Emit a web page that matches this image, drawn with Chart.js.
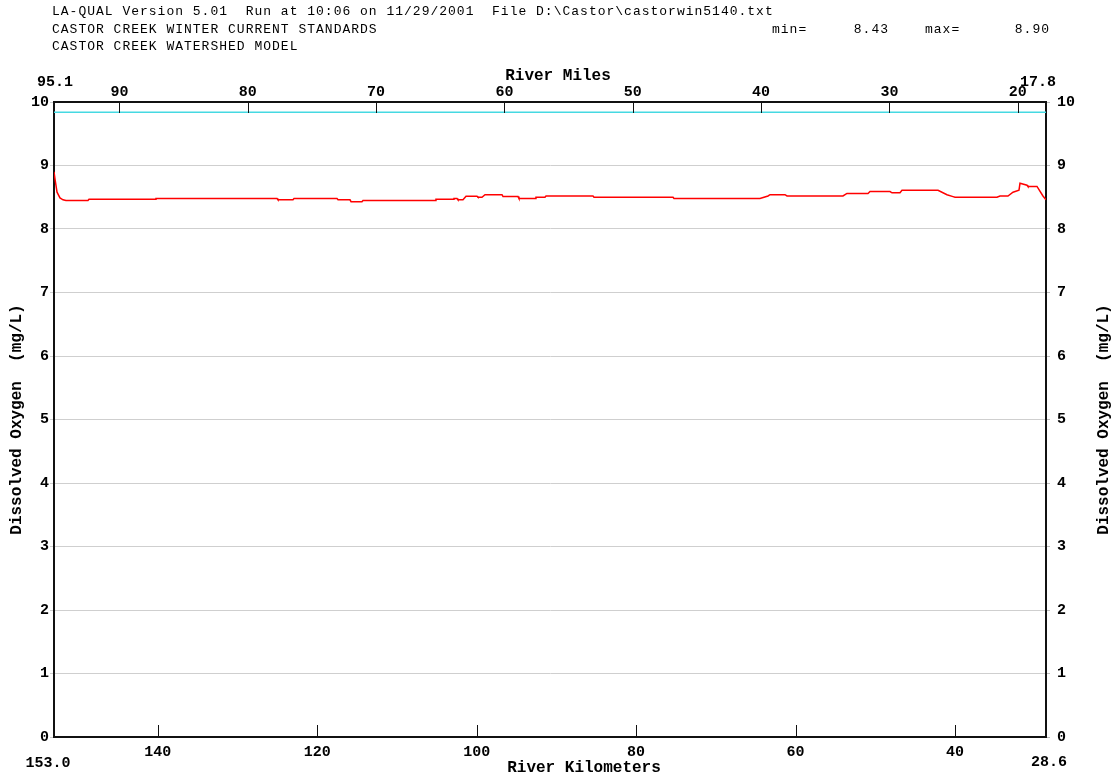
<!DOCTYPE html>
<html>
<head>
<meta charset="utf-8">
<title>Castor Creek DO profile</title>
<script src="https://cdn.jsdelivr.net/npm/chart.js@4.4.1/dist/chart.umd.min.js"></script>
<style>
  html, body { margin: 0; background: #fff; }
  canvas { display: block; }
</style>
</head>
<body>
<canvas id="doChart" width="1115" height="780"></canvas>
<script>
"use strict";

// simulated dissolved oxygen along the reach (river km, mg/L)
const riverKm = [
  153.0, 152.87, 152.62, 152.25, 151.87, 151.5, 148.74, 148.61, 140.33, 140.21,
  125.03, 124.91, 123.03, 122.9, 117.51, 117.38, 115.88, 115.75, 114.38, 114.25,
  105.22, 105.1, 102.96, 102.84, 102.46, 102.34, 101.71, 101.33, 99.95, 99.83,
  99.33, 98.95, 96.82, 96.69, 94.81, 94.69, 92.68, 92.56, 91.43, 91.3,
  85.41, 85.28, 75.37, 75.25, 64.47, 63.46, 63.21, 61.33, 61.08, 54.06,
  53.56, 50.92, 50.67, 48.16, 47.91, 46.91, 46.66, 42.14, 41.02, 40.26,
  40.01, 34.75, 34.37, 33.37, 32.74, 31.99, 31.86, 30.98, 30.86, 29.73,
  28.98, 28.6
];
const dissolvedOxygen = [
  8.90, 8.78, 8.58, 8.49, 8.46, 8.45, 8.45, 8.47, 8.47, 8.48,
  8.48, 8.46, 8.46, 8.48, 8.48, 8.46, 8.46, 8.43, 8.43, 8.45,
  8.45, 8.47, 8.47, 8.48, 8.48, 8.46, 8.46, 8.515, 8.515, 8.50,
  8.50, 8.54, 8.54, 8.51, 8.51, 8.48, 8.48, 8.50, 8.50, 8.52,
  8.52, 8.50, 8.50, 8.48, 8.48, 8.52, 8.54, 8.54, 8.52, 8.52,
  8.56, 8.56, 8.59, 8.59, 8.57, 8.57, 8.61, 8.61, 8.54, 8.51,
  8.50, 8.50, 8.52, 8.52, 8.58, 8.61, 8.72, 8.69, 8.67, 8.67,
  8.52, 8.46
];

// upper reference line
const standardKm = [153.0, 28.6];
const standardDo = [9.84, 9.84];

const kmRange = [28.6, 153.0];
const mileRange = [17.8, 95.1];
const kmTicks = [140, 120, 100, 80, 60, 40];
const mileTicks = [90, 80, 70, 60, 50, 40, 30, 20];
const doTicks = [0, 1, 2, 3, 4, 5, 6, 7, 8, 9, 10];

const headerLines = [
  "LA-QUAL Version 5.01  Run at 10:06 on 11/29/2001  File D:\\Castor\\castorwin5140.txt",
  "CASTOR CREEK WINTER CURRENT STANDARDS",
  "CASTOR CREEK WATERSHED MODEL"
];

const MONO = "'Liberation Mono', 'Courier New', monospace";
const tickFont = { family: MONO, size: 15, weight: "bold" };
const AXIS = "#111";

function fixTicks(values) {
  return (scale) => {
    scale.ticks = values.map((value) => ({ value }));
  };
}

function fixSize(prop, size) {
  return (scale) => {
    scale[prop] = size;
  };
}

const decorations = {
  id: "decorations",
  afterDraw(chart) {
    const { ctx, chartArea: area, scales } = chart;
    ctx.save();

    // inward tick marks on the kilometre and mile axes
    ctx.strokeStyle = AXIS;
    ctx.lineWidth = 1;
    ctx.beginPath();
    kmTicks.forEach((v) => {
      const x = Math.round(scales.x.getPixelForValue(v)) + 0.5;
      ctx.moveTo(x, area.bottom);
      ctx.lineTo(x, area.bottom - 12);
    });
    mileTicks.forEach((v) => {
      const x = Math.round(scales.x2.getPixelForValue(v)) + 0.5;
      ctx.moveTo(x, area.top);
      ctx.lineTo(x, area.top + 11);
    });
    ctx.stroke();

    // header block
    ctx.fillStyle = "#000";
    ctx.font = `13px ${MONO}`;
    ctx.letterSpacing = "1px";
    ctx.textAlign = "left";
    ctx.textBaseline = "alphabetic";
    headerLines.forEach((line, i) => {
      ctx.fillText(line, 52, 15 + i * 17.5);
    });
    const lo = Math.min(...dissolvedOxygen).toFixed(2);
    const hi = Math.max(...dissolvedOxygen).toFixed(2);
    ctx.fillText("min=", 772, 32.5);
    ctx.fillText("max=", 925, 32.5);
    ctx.textAlign = "right";
    ctx.fillText(lo, 889, 32.5);
    ctx.fillText(hi, 1050, 32.5);
    ctx.letterSpacing = "0px";

    // axis titles and end values
    ctx.font = `bold 16px ${MONO}`;
    ctx.textAlign = "center";
    ctx.textBaseline = "middle";
    ctx.fillText("River Miles", 558, 76);
    ctx.fillText("River Kilometers", 584, 768);
    ctx.font = `bold 15px ${MONO}`;
    ctx.fillText(mileRange[1].toFixed(1), 55, 82);
    ctx.fillText(mileRange[0].toFixed(1), 1038, 82);
    ctx.fillText(kmRange[1].toFixed(1), 48, 763);
    ctx.fillText(kmRange[0].toFixed(1), 1049, 762);

    ctx.font = `bold 16px ${MONO}`;
    const midY = (area.top + area.bottom) / 2;
    [17, 1104].forEach((x) => {
      ctx.save();
      ctx.translate(x, midY);
      ctx.rotate(-Math.PI / 2);
      ctx.fillText("Dissolved Oxygen  (mg/L)", 0, 0);
      ctx.restore();
    });

    ctx.restore();
  }
};

new Chart(document.getElementById("doChart"), {
  type: "line",
  data: {
    datasets: [
      {
        label: "Standard",
        data: standardKm.map((x, i) => ({ x, y: standardDo[i] })),
        borderColor: "#46d9e2",
        borderWidth: 1.5,
        pointRadius: 0,
        xAxisID: "x",
        yAxisID: "y"
      },
      {
        label: "Dissolved Oxygen",
        data: riverKm.map((x, i) => ({ x, y: dissolvedOxygen[i] })),
        borderColor: "#ff0000",
        borderWidth: 1.5,
        pointRadius: 0,
        tension: 0,
        xAxisID: "x",
        yAxisID: "y"
      }
    ]
  },
  options: {
    responsive: false,
    animation: false,
    layout: { padding: 0 },
    plugins: {
      legend: { display: false },
      tooltip: { enabled: false }
    },
    scales: {
      x: {
        type: "linear",
        position: "bottom",
        reverse: true,
        min: kmRange[0],
        max: kmRange[1],
        afterBuildTicks: fixTicks(kmTicks),
        afterFit: fixSize("height", 43),
        grid: { display: true, drawOnChartArea: false, drawTicks: false },
        border: { display: true, color: AXIS, width: 2 },
        ticks: { font: tickFont, color: "#000", padding: 6, maxRotation: 0 }
      },
      x2: {
        type: "linear",
        position: "top",
        reverse: true,
        min: mileRange[0],
        max: mileRange[1],
        afterBuildTicks: fixTicks(mileTicks),
        afterFit: fixSize("height", 102),
        grid: { display: true, drawOnChartArea: false, drawTicks: false },
        border: { display: true, color: AXIS, width: 2 },
        ticks: { font: tickFont, color: "#000", padding: 1, maxRotation: 0 }
      },
      y: {
        type: "linear",
        position: "left",
        min: 0,
        max: 10,
        afterBuildTicks: fixTicks(doTicks),
        afterFit: fixSize("width", 54),
        grid: { color: "#cfcfcf", lineWidth: 1, tickLength: 4 },
        border: { display: true, color: AXIS, width: 2 },
        ticks: { font: tickFont, color: "#000", padding: 1 }
      },
      y2: {
        type: "linear",
        position: "right",
        min: 0,
        max: 10,
        afterBuildTicks: fixTicks(doTicks),
        afterFit: fixSize("width", 69),
        grid: { color: "#bdbdbd", drawOnChartArea: false, tickLength: 4 },
        border: { display: true, color: AXIS, width: 2 },
        ticks: { font: tickFont, color: "#000", padding: 7 }
      }
    }
  },
  plugins: [decorations]
});
</script>
</body>
</html>
